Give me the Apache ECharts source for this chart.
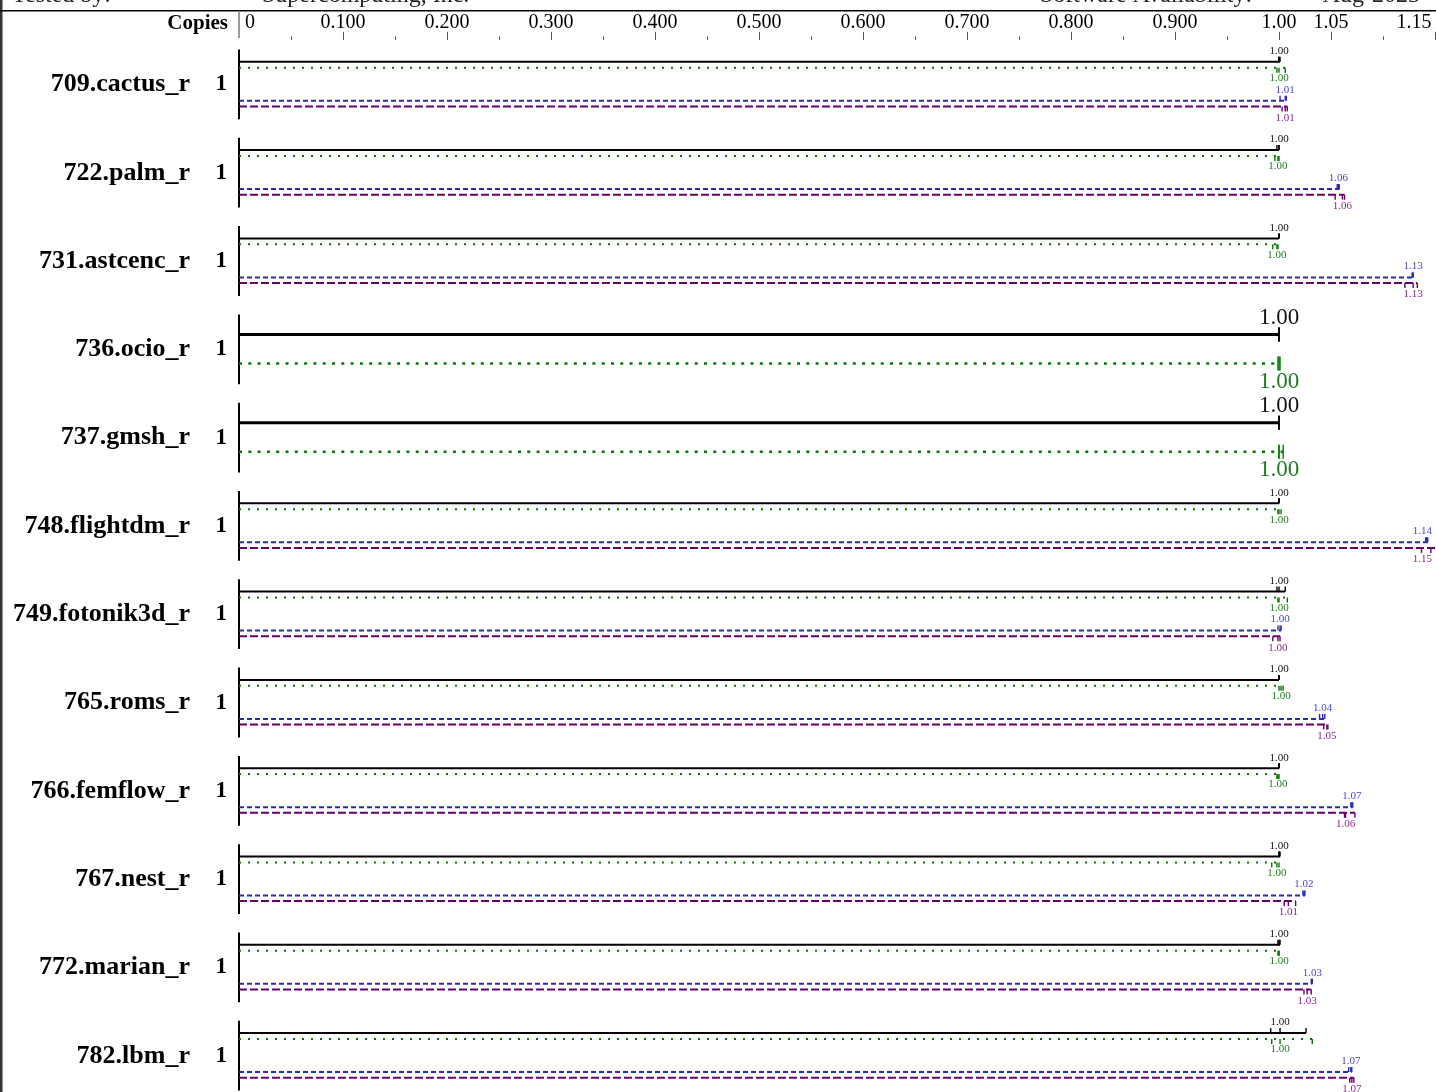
<!DOCTYPE html>
<html><head><meta charset="utf-8">
<script src="https://cdn.jsdelivr.net/npm/echarts@6/dist/echarts.min.js"></script>
<style>html,body{margin:0;padding:0;background:#fff}#c{width:1436px;height:1092px}</style>
</head><body><div id="c"></div>
<script>
// ---------- data ----------
const BENCHMARKS = ['709.cactus_r','722.palm_r','731.astcenc_r','736.ocio_r','737.gmsh_r','748.flightdm_r',
  '749.fotonik3d_r','765.roms_r','766.femflow_r','767.nest_r','772.marian_r','782.lbm_r'];
const COPIES = [1,1,1,1,1,1,1,1,1,1,1,1];
const TICK_VALUES = [0,0.1,0.2,0.3,0.4,0.5,0.6,0.7,0.8,0.9,1.0,1.05,1.15];
const TICK_LABELS = ['0','0.100','0.200','0.300','0.400','0.500','0.600','0.700','0.800','0.900','1.00','1.05','1.15'];
const MINOR_TICKS = [0.05,0.15,0.25,0.35,0.45,0.55,0.65,0.75,0.85,0.95,1.10];
// three runs per benchmark (line drawn to max run, ticks at each run, label = median)
const RUNS_BLACK = [
  [1.000,1.000,1.001],[0.998,1.000,1.000],[1.000,1.000,1.000],[1.000,1.000,1.000],[1.000,1.000,1.000],[1.000,1.000,1.000],
  [0.998,1.000,1.006],[1.000,1.000,1.000],[1.000,1.000,1.000],[1.000,1.000,1.001],[0.999,1.000,1.001],[0.992,1.001,1.026]];
const RUNS_GREEN = [
  [0.998,1.000,1.006],[0.996,0.999,1.000],[0.994,0.998,0.999],[0.999,1.000,1.001],[1.000,1.000,1.004],[0.999,1.000,1.002],
  [0.999,1.000,1.008],[1.000,1.002,1.004],[0.998,0.999,1.000],[0.993,0.998,1.000],[0.999,1.000,1.000],[0.993,1.001,1.032]];
const RUNS_BLUE = [
  [1.001,1.006,1.007],[1.056,1.057,1.058],[1.128,1.129,1.129],null,null,[1.141,1.142,1.143],
  [0.999,1.001,1.002],[1.039,1.042,1.044],[1.069,1.070,1.071],[1.023,1.024,1.025],[1.031,1.032,1.032],[1.067,1.069,1.070]];
const RUNS_PURPLE = [
  [1.003,1.006,1.008],[1.054,1.061,1.063],[1.121,1.129,1.133],null,null,[1.137,1.146,1.157],
  [0.994,0.999,1.001],[1.043,1.046,1.047],[1.063,1.064,1.073],[1.005,1.009,1.016],[1.024,1.027,1.031],[1.068,1.070,1.072]];

// ---------- styles ----------
const SERIF = "'Liberation Serif','Times New Roman',serif";
const STYLES = {
  black:  {off4:-20.2, off2:-12.5, dir:-1, lab4:-10.5, lab2:-16.3, color:'#000000', labelColor:'#111111', w4:2, w2:3, dash4:null, dash2:null},
  green:  {off4:-14.3, off2:16.5, dir:1, lab4:10.5, lab2:18.4, color:'#007a00', labelColor:'#1d7d1d', w4:2, w2:2.5, dash4:[2,7], dash2:[3,6.3]},
  blue:   {off4:18.8, off2:18.8, dir:-1, lab4:-11, lab2:-11, color:'#2a2ab4', labelColor:'#4848cc', w4:2, w2:2, dash4:[5,3], dash2:[5,3]},
  purple: {off4:24.4, off2:24.4, dir:1, lab4:11.5, lab2:11.5, color:'#680068', labelColor:'#8a2a8a', w4:2, w2:2, dash4:[8,3], dash2:[8,3]}
};
const isTwoLine = i => RUNS_BLUE[i] == null;

function makeRender(st) {
  return function (params, api) {
    const row = api.value(3);
    const runs = [api.value(0), api.value(1), api.value(2)];
    const two = isTwoLine(row);
    const base = api.coord([0, row]);
    const y = base[1] + (two ? st.off2 : st.off4);
    const xs = runs.map(v => api.coord([v, row])[0]);
    const xMax = Math.max.apply(null, xs);
    const med = runs.slice().sort((a, b) => a - b)[1];
    const xMed = api.coord([med, row])[0];
    const children = [];
    children.push({type:'line', shape:{x1:base[0], y1:y, x2:xMax, y2:y},
      style:{stroke:st.color, lineWidth: two ? st.w2 : st.w4, lineDash: two ? st.dash2 : st.dash4}});
    xs.forEach(x => {
      const y1 = two ? y - 7 : y;
      const y2 = two ? y + 7 : y + st.dir * 5;
      children.push({type:'line', shape:{x1:x, y1:y1, x2:x, y2:y2}, style:{stroke:st.color, lineWidth:1.4}});
    });
    const fs = two ? 23 : 11;
    children.push({type:'text', style:{text: med.toFixed(2), x: Math.min(xMed, 1432 - 0.875 * fs),
      y: y + (two ? st.lab2 : st.lab4), align:'center', verticalAlign:'middle',
      font: fs + 'px ' + SERIF, fill: st.labelColor}});
    return {type:'group', children};
  };
}
function seriesFor(runsArr, st) {
  const data = runsArr.map((r, i) => r ? [r[0], r[1], r[2], i] : null).filter(Boolean);
  return {type:'custom', silent:true, clip:false, xAxisIndex:0, yAxisIndex:0,
    encode:{x:[0,1,2], y:3}, data, renderItem: makeRender(st)};
}

const chart = echarts.init(document.getElementById('c'), null, {renderer:'canvas'});
chart.setOption({
  animation:false,
  backgroundColor:'#ffffff',
  grid:{left:239, top:37.85, width:1196, height:1059.6, containLabel:false, outerBoundsMode:'none'},
  xAxis:[
    {type:'value', position:'top', min:0, max:1.15, offset:-2, gridIndex:0,
     axisLine:{show:false}, splitLine:{show:false},
     axisTick:{show:true, customValues:TICK_VALUES.slice(1), length:8, lineStyle:{color:'#555', width:1}},
     axisLabel:{show:true, customValues:TICK_VALUES, margin:7, color:'#000', fontSize:20, fontFamily:SERIF,
       formatter:(v) => {
         const i = TICK_VALUES.findIndex(t => Math.abs(t - v) < 1e-6);
         const s = i >= 0 ? TICK_LABELS[i] : '';
         if (i === 0) return '{z|' + s + '}';
         if (i === TICK_VALUES.length - 1) return '{e|' + s + '}';
         return s;
       },
       rich:{z:{fontSize:20, fontFamily:SERIF, color:'#000', padding:[0,0,0,22]},
             e:{fontSize:20, fontFamily:SERIF, color:'#000', padding:[0,42,0,0]}}}},
    {type:'value', position:'top', min:0, max:1.15, offset:-2, gridIndex:0,
     axisLine:{show:false}, splitLine:{show:false}, axisLabel:{show:false},
     axisTick:{show:true, customValues:MINOR_TICKS, length:3.5, lineStyle:{color:'#555', width:1}}}
  ],
  yAxis:{type:'category', data:BENCHMARKS, inverse:true, gridIndex:0,
    axisLine:{show:false}, axisTick:{show:false}, splitLine:{show:false},
    axisLabel:{margin:12, formatter:(v, i) => '{n|' + v + '}{c|' + COPIES[i] + '}',
      rich:{n:{fontSize:26, fontWeight:'bold', fontFamily:SERIF, color:'#000', padding:[5,0,0,0]},
            c:{fontSize:23, fontWeight:'bold', fontFamily:SERIF, color:'#000', width:37, align:'right', padding:[5,0,0,0]}}}},
  graphic:[
    {type:'rect', shape:{x:0, y:0, width:2.5, height:1092}, style:{fill:'#333'}, silent:true},
    {type:'line', shape:{x1:0, y1:10.7, x2:1436, y2:10.7}, style:{stroke:'#000', lineWidth:1.5}, silent:true},
    {type:'line', shape:{x1:239, y1:11, x2:239, y2:38}, style:{stroke:'#999', lineWidth:2}, silent:true},
    {type:'text', x:12, y:-4.5, style:{text:'Tested by:', font:'24px ' + SERIF, fill:'#222', align:'left', verticalAlign:'middle'}, silent:true},
    {type:'text', x:262, y:-4.5, style:{text:'Supercomputing, Inc.', font:'24px ' + SERIF, fill:'#222', align:'left', verticalAlign:'middle'}, silent:true},
    {type:'text', x:1040, y:-4.5, style:{text:'Software Availability:', font:'24px ' + SERIF, fill:'#222', align:'left', verticalAlign:'middle'}, silent:true},
    {type:'text', x:1420, y:-4.5, style:{text:'Aug-2023', font:'24px ' + SERIF, fill:'#222', align:'right', verticalAlign:'middle'}, silent:true},
    {type:'text', x:228, y:23.5, style:{text:'Copies', font:'bold 21px ' + SERIF, fill:'#000', align:'right', verticalAlign:'middle'}, silent:true}
  ],
  series:[
    {type:'custom', silent:true, clip:false, encode:{x:0, y:1},
     data:BENCHMARKS.map((_, i) => [0, i]),
     renderItem:(params, api) => {
       const p = api.coord([api.value(0), api.value(1)]);
       return {type:'line', shape:{x1:p[0], y1:p[1] - 32.5, x2:p[0], y2:p[1] + 37.3}, style:{stroke:'#000', lineWidth:2}};
     }},
    seriesFor(RUNS_BLACK, STYLES.black),
    seriesFor(RUNS_GREEN, STYLES.green),
    seriesFor(RUNS_BLUE, STYLES.blue),
    seriesFor(RUNS_PURPLE, STYLES.purple)
  ]
});
</script></body></html>
